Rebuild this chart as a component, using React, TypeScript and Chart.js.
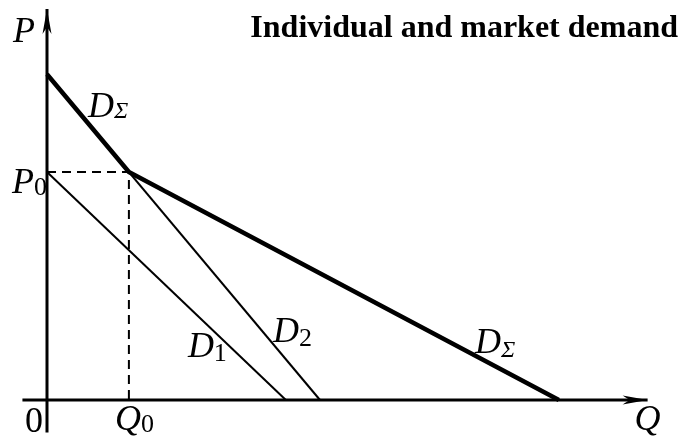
import React, { useEffect, useRef } from "react";
import { Chart, registerables } from "chart.js";

Chart.register(...registerables);

// Demand data (price P, quantity Q)
const P0 = 7;
const Q0 = 3;
const D1_Pmax = 7;
const D1_Qmax = 8.75;
const D2_Pmax = 10;
const D2_Qmax = 10;
const DSUM_Qmax = D1_Qmax + D2_Qmax;

const D1_points = [
  { x: 0, y: D1_Pmax },
  { x: D1_Qmax, y: 0 },
];
const D2_points = [
  { x: 0, y: D2_Pmax },
  { x: D2_Qmax, y: 0 },
];
const DSUM_points = [
  { x: 0, y: D2_Pmax },
  { x: Q0, y: P0 },
  { x: DSUM_Qmax, y: 0 },
];
const guide_points = [
  { x: 0, y: P0 },
  { x: Q0, y: P0 },
  { x: Q0, y: 0 },
];
const xAxis_points = [
  { x: -0.9, y: 0 },
  { x: 22, y: 0 },
];
const yAxis_points = [
  { x: 0, y: -1 },
  { x: 0, y: 12 },
];

const TITLE = "Individual and market demand";

const SERIF = "'Liberation Serif', 'DejaVu Serif', serif";

type Label = {
  ax: number;
  ay: number;
  dx: number;
  dy: number;
  main: string;
  sub?: string;
  subItalic?: boolean;
  italic: boolean;
  subDy?: number;
};

const labels: Label[] = [
  { ax: 0, ay: 12, dx: -34, dy: 33, main: "P", italic: true },
  { ax: 0, ay: P0, dx: -35, dy: 21, main: "P", sub: "0", italic: true, subDy: 2 },
  { ax: 0, ay: 0, dx: -22, dy: 32, main: "0", italic: false },
  { ax: Q0, ay: 0, dx: -14, dy: 30, main: "Q", sub: "0", italic: true, subDy: 2 },
  { ax: 22, ay: 0, dx: -13, dy: 30, main: "Q", italic: true },
  { ax: 0, ay: D2_Pmax, dx: 41, dy: 43, main: "D", sub: "Σ", subItalic: true, italic: true, subDy: 1 },
  { ax: D1_Qmax, ay: 0, dx: -98, dy: -43, main: "D", sub: "1", italic: true, subDy: 4 },
  { ax: D2_Qmax, ay: 0, dx: -47, dy: -58, main: "D", sub: "2", italic: true, subDy: 4 },
  { ax: DSUM_Qmax, ay: 0, dx: -84, dy: -47, main: "D", sub: "Σ", subItalic: true, italic: true, subDy: 4 },
];

const decorPlugin = {
  id: "decor",
  afterDatasetsDraw(chart: any) {
    const ctx = chart.ctx as CanvasRenderingContext2D;
    const xs = chart.scales.x;
    const ys = chart.scales.y;
    ctx.save();
    ctx.fillStyle = "#000";
    // arrowheads
    const yTipX = xs.getPixelForValue(0);
    const yTipY = ys.getPixelForValue(yAxis_points[1].y);
    ctx.beginPath();
    ctx.moveTo(yTipX, yTipY);
    ctx.lineTo(yTipX + 4.5, yTipY + 25);
    ctx.lineTo(yTipX, yTipY + 18);
    ctx.lineTo(yTipX - 4.5, yTipY + 25);
    ctx.closePath();
    ctx.fill();
    const xTipX = xs.getPixelForValue(xAxis_points[1].x);
    const xTipY = ys.getPixelForValue(0);
    ctx.beginPath();
    ctx.moveTo(xTipX, xTipY);
    ctx.lineTo(xTipX - 25, xTipY - 4.5);
    ctx.lineTo(xTipX - 18, xTipY);
    ctx.lineTo(xTipX - 25, xTipY + 4.5);
    ctx.closePath();
    ctx.fill();

    // labels
    ctx.textBaseline = "alphabetic";
    ctx.textAlign = "left";
    for (const l of labels) {
      const px = xs.getPixelForValue(l.ax) + l.dx;
      const py = ys.getPixelForValue(l.ay) + l.dy;
      ctx.font = `${l.italic ? "italic " : ""}36px ${SERIF}`;
      ctx.fillText(l.main, px, py);
      const w = ctx.measureText(l.main).width;
      if (l.sub) {
        ctx.font = `${l.subItalic ? "italic " : ""}${l.subItalic ? 24 : 26}px ${SERIF}`;
        ctx.fillText(l.sub, px + w, py + (l.subDy || 0));
      }
    }
    // title
    ctx.font = `bold 32px ${SERIF}`;
    ctx.textAlign = "right";
    ctx.fillText(TITLE, chart.width - 1, 37);
    ctx.restore();
  },
};

export default function App() {
  const ref = useRef<HTMLCanvasElement | null>(null);
  useEffect(() => {
    if (!ref.current) return;
    const base = { type: "scatter" as const, showLine: true, pointRadius: 0, borderColor: "#000", fill: false, tension: 0 };
    const chart = new Chart(ref.current, {
      type: "scatter",
      data: {
        datasets: [
          { ...base, label: "guide", data: guide_points, borderWidth: 2, borderDash: [9, 6] },
          { ...base, label: "xaxis", data: xAxis_points, borderWidth: 3 },
          { ...base, label: "yaxis", data: yAxis_points, borderWidth: 3 },
          { ...base, label: "D1", data: D1_points, borderWidth: 2 },
          { ...base, label: "D2", data: D2_points, borderWidth: 2 },
          { ...base, label: "DΣ", data: DSUM_points, borderWidth: 4.5, borderJoinStyle: "round" as const },
        ],
      },
      options: {
        animation: false,
        responsive: true,
        maintainAspectRatio: false,
        layout: { padding: 0 },
        plugins: { legend: { display: false }, tooltip: { enabled: false }, title: { display: false } },
        events: [],
        scales: {
          x: { type: "linear", display: false, min: -1.7216, max: 23.15 },
          y: { type: "linear", display: false, min: -1.105, max: 12.28 },
        },
      },
      plugins: [decorPlugin],
    });
    return () => chart.destroy();
  }, []);
  return (
    <div style={{ position: "fixed", left: 0, top: 0, width: 679, height: 436, background: "#fff" }}>
      <canvas ref={ref} />
    </div>
  );
}
